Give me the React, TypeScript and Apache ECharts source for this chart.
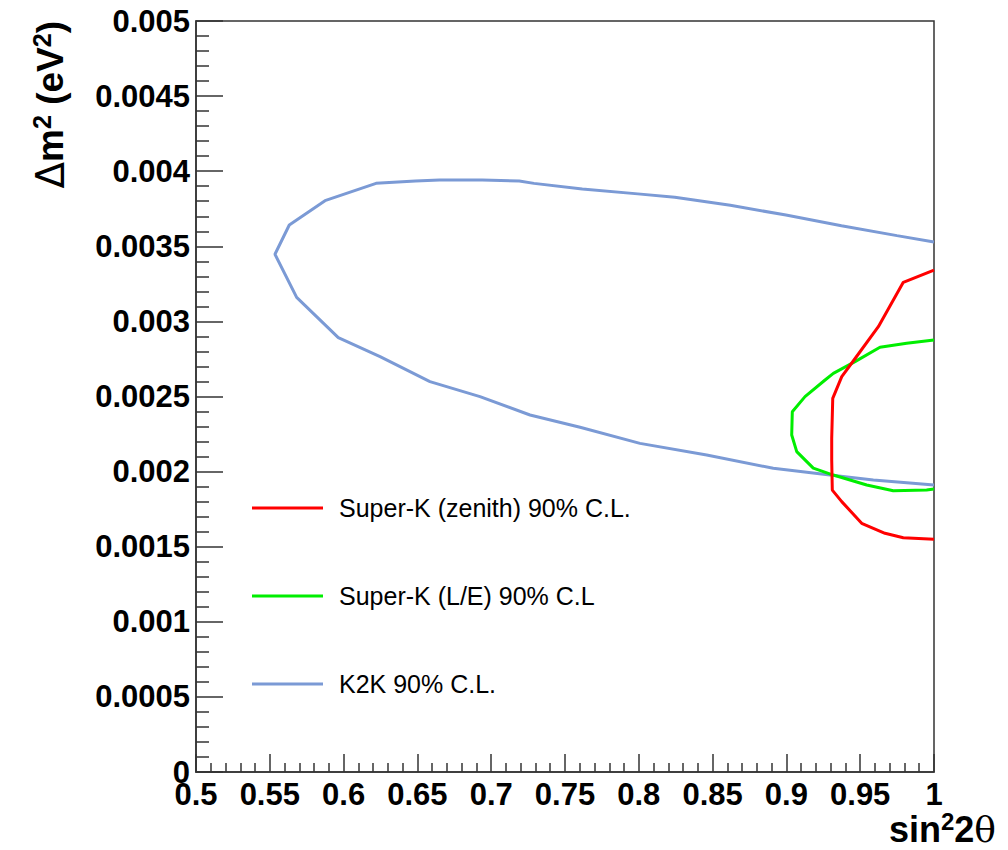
import React, { useEffect, useRef } from "react";
import * as echarts from "echarts";

// Oscillation parameter space: sin^2(2θ) on x, Δm^2 (eV^2) on y
const X_MIN = 0.5;
const X_MAX = 1.0;
const X_STEP = 0.05;
const Y_MIN = 0;
const Y_MAX = 0.005;
const Y_STEP = 0.0005;

const seriesNames = [
  "Super-K (zenith) 90% C.L.",
  "Super-K (L/E) 90% C.L",
  "K2K 90% C.L.",
];
const seriesColors = ["#ff0000", "#00ee00", "#7b9ad5"];

// Super-K zenith-angle contour (sin^2 2θ, Δm^2)
const skZenith: [number, number][] = [
  [1.0, 0.003342],
  [0.9792, 0.00326],
  [0.9623, 0.002965],
  [0.9458, 0.002743],
  [0.9375, 0.002632],
  [0.9314, 0.002488],
  [0.9307, 0.002222],
  [0.9307, 0.002077],
  [0.9311, 0.001877],
  [0.9375, 0.0018],
  [0.951, 0.001656],
  [0.9668, 0.001589],
  [0.9792, 0.00156],
  [1.0, 0.001549],
];

// Super-K L/E contour
const skLE: [number, number][] = [
  [1.0, 0.002876],
  [0.9815, 0.002854],
  [0.9634, 0.002828],
  [0.9465, 0.002732],
  [0.9318, 0.002654],
  [0.9262, 0.00261],
  [0.9126, 0.002499],
  [0.904, 0.002399],
  [0.9036, 0.002244],
  [0.907, 0.002133],
  [0.9182, 0.002023],
  [0.9318, 0.001977],
  [0.9544, 0.001911],
  [0.9724, 0.001873],
  [0.995, 0.001877],
  [1.0, 0.001884],
];

// K2K contour
const k2k: [number, number][] = [
  [1.0, 0.003529],
  [0.9749, 0.003571],
  [0.9373, 0.003637],
  [0.8997, 0.003708],
  [0.862, 0.003773],
  [0.8244, 0.003826],
  [0.7993, 0.003849],
  [0.7617, 0.003882],
  [0.729, 0.003919],
  [0.719, 0.003935],
  [0.6939, 0.003941],
  [0.665, 0.003941],
  [0.6487, 0.003935],
  [0.622, 0.003919],
  [0.5874, 0.003804],
  [0.5632, 0.003642],
  [0.5535, 0.003447],
  [0.5682, 0.00316],
  [0.5964, 0.002892],
  [0.6247, 0.002765],
  [0.6585, 0.002599],
  [0.6924, 0.002499],
  [0.7263, 0.002377],
  [0.7602, 0.002295],
  [0.8008, 0.002188],
  [0.846, 0.00211],
  [0.8911, 0.002022],
  [0.9295, 0.001977],
  [0.9589, 0.001944],
  [1.0, 0.001911],
];

const contours = [skZenith, skLE, k2k];

const FONT = "'Liberation Sans', Arial, sans-serif";

export default function App() {
  const ref = useRef<HTMLDivElement>(null);

  useEffect(() => {
    if (!ref.current) return;
    const chart = echarts.init(ref.current, undefined, { renderer: "svg" });

    const fmt = (v: number) => String(+v.toFixed(4));
    const axisColor = "#333";

    // rich-text styles for the axis titles (superscripts ride at the top of the line)
    const titleRich = (size: number) => ({
      m: { fontFamily: FONT, fontWeight: "bold", fontSize: size, lineHeight: size + 4, fill: "#000" },
      s: {
        fontFamily: FONT,
        fontWeight: "bold",
        fontSize: Math.round(size * 0.68),
        lineHeight: Math.round(size * 0.68),
        verticalAlign: "top",
        fill: "#000",
      },
      g: { fontFamily: "'DejaVu Serif', serif", fontWeight: "normal", fontSize: size, lineHeight: size + 4, fill: "#000" },
      d: { fontFamily: "'DejaVu Sans', sans-serif", fontWeight: "normal", fontSize: size + 2, lineHeight: size + 4, fill: "#000" },
    });

    chart.setOption({
      animation: false,
      backgroundColor: "#fff",
      grid: {
        left: 196,
        right: 74,
        top: 21,
        bottom: 78,
        show: true,
        borderColor: axisColor,
        borderWidth: 1.5,
        backgroundColor: "transparent",
      },
      xAxis: {
        type: "value",
        min: X_MIN,
        max: X_MAX,
        interval: X_STEP,
        axisLine: { show: true, lineStyle: { color: axisColor, width: 1.5 } },
        axisTick: { show: true, inside: true, length: 18, lineStyle: { color: axisColor, width: 1.5 } },
        minorTick: { show: true, splitNumber: 5, length: 9, lineStyle: { color: axisColor, width: 1.5 } },
        splitLine: { show: false },
        axisLabel: {
          margin: 7,
          color: "#000",
          fontFamily: FONT,
          fontWeight: "bold",
          fontSize: 31,
          formatter: fmt,
        },
      },
      yAxis: {
        type: "value",
        min: Y_MIN,
        max: Y_MAX,
        interval: Y_STEP,
        axisLine: { show: true, lineStyle: { color: axisColor, width: 1.5 } },
        axisTick: { show: true, inside: true, length: 27, lineStyle: { color: axisColor, width: 1.5 } },
        minorTick: { show: true, splitNumber: 5, length: 13, lineStyle: { color: axisColor, width: 1.5 } },
        splitLine: { show: false },
        axisLabel: {
          margin: 6,
          color: "#000",
          fontFamily: FONT,
          fontWeight: "bold",
          fontSize: 31,
          padding: [8, 0, 0, 0],
          formatter: fmt,
        },
      },
      legend: {
        show: true,
        orient: "vertical",
        left: 252,
        top: 493,
        padding: 0,
        icon: "rect",
        itemWidth: 71,
        itemHeight: 3,
        itemGap: 58,
        textStyle: {
          fontFamily: FONT,
          fontSize: 25,
          color: "#000",
          lineHeight: 30,
          padding: [0, 0, 0, 11],
        },
        data: seriesNames,
      },
      series: contours.map((pts, i) => ({
        name: seriesNames[i],
        type: "line",
        data: pts,
        showSymbol: false,
        symbol: "none",
        smooth: false,
        clip: true,
        color: seriesColors[i],
        itemStyle: { color: seriesColors[i] },
        lineStyle: { color: seriesColors[i], width: 3 },
        z: 3 - i,
      })),
      graphic: [
        {
          type: "text",
          x: 996,
          y: 829,
          style: {
            text: "{m|sin}{s|2}{m|2}{g|θ}",
            align: "right",
            verticalAlign: "middle",
            fill: "#000",
            rich: titleRich(36),
          },
        },
        {
          type: "text",
          x: 50,
          y: 21,
          rotation: Math.PI / 2,
          style: {
            text: "{d|Δ}{m|m}{s|2}{m| (eV}{s|2}{m|)}",
            align: "right",
            verticalAlign: "middle",
            fill: "#000",
            rich: titleRich(37),
          },
        },
      ],
    });

    return () => chart.dispose();
  }, []);

  return (
    <div
      ref={ref}
      style={{ position: "fixed", left: 0, top: 0, width: 1008, height: 850, background: "#fff" }}
    />
  );
}
